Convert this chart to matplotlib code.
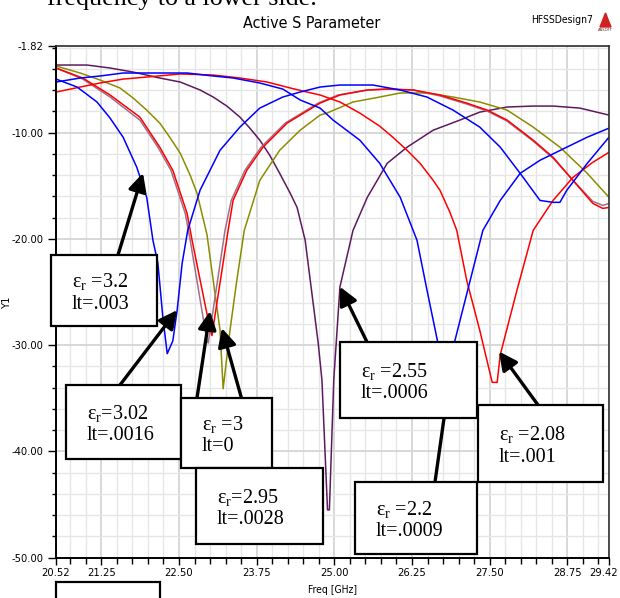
import numpy as np
import matplotlib
matplotlib.use("Agg")
import matplotlib.pyplot as plt
from matplotlib import font_manager
from matplotlib.font_manager import FontProperties
from matplotlib.patches import Rectangle, Polygon
from matplotlib.ticker import MultipleLocator
from matplotlib.transforms import ScaledTranslation

# narrow sans for the HFSS texts: condensed DejaVu if present, else Liberation Sans
narrow = 'Liberation Sans'
stretch = 'normal'
try:
    path = font_manager.findfont(FontProperties(family='DejaVu Sans', stretch='condensed'),
                                 fallback_to_default=False)
    if 'Condensed' in path:
        narrow, stretch = 'DejaVu Sans', 'condensed'
except Exception:
    pass
plt.rcParams['font.family'] = [narrow, 'DejaVu Sans']
plt.rcParams['font.stretch'] = stretch
plt.rcParams['mathtext.fontset'] = 'custom'
plt.rcParams['mathtext.rm'] = 'Liberation Serif'
plt.rcParams['mathtext.it'] = 'Liberation Serif:italic'

# ---- data (Freq in GHz, Y1 in dB) ----
f_blue_a = [20.52, 20.86, 21.18, 21.39, 21.60, 21.82, 21.98, 22.08, 22.16, 22.24, 22.31, 22.40,
            22.47, 22.55, 22.64, 22.84, 23.16, 23.48, 23.80, 24.17, 24.45, 24.77, 25.09, 25.62,
            26.06, 26.49, 26.91, 27.34, 27.67, 27.99, 28.31, 28.52, 28.63, 28.74, 29.07, 29.42]
y_blue_a = [-4.96, -5.71, -7.12, -8.63, -10.43, -13.26, -16.09, -20.13, -22.3, -27.4, -30.8, -29.6,
            -26.7, -22.3, -19.2, -15.4, -11.66, -9.48, -7.69, -6.65, -6.18, -5.71, -5.52, -5.52,
            -5.99, -6.65, -7.88, -9.48, -11.37, -13.83, -16.38, -16.56, -16.56, -15.43, -12.89, -10.43]

f_blue_b = [20.52, 20.91, 21.23, 21.60, 22.03, 22.63, 23.05, 23.37, 23.80, 24.17, 24.45, 24.77,
            24.98, 25.41, 25.73, 26.06, 26.33, 26.49, 26.67, 26.80, 26.93, 27.39, 27.67, 27.99,
            28.31, 28.74, 29.07, 29.42]
y_blue_b = [-5.24, -4.86, -4.67, -4.39, -4.39, -4.39, -4.67, -4.86, -5.33, -5.90, -6.93, -7.69,
            -8.82, -10.71, -12.89, -16.09, -20.13, -24.8, -29.9, -33.5, -29.8, -19.2, -16.38, -13.83,
            -12.6, -11.37, -10.43, -9.58]

f_red_a = [20.52, 20.91, 21.23, 21.60, 21.98, 22.52, 23.05, 23.48, 23.92, 24.29, 24.56, 24.77,
           25.09, 25.41, 25.73, 25.94, 26.17, 26.38, 26.59, 26.70, 26.86, 26.97, 27.13, 27.34,
           27.54, 27.62, 27.67, 27.94, 28.20, 28.52, 28.84, 29.16, 29.42]
y_red_a = [-6.18, -5.71, -5.33, -4.96, -4.77, -4.48, -4.58, -4.86, -5.24, -5.80, -6.18, -6.46,
           -7.12, -8.16, -9.39, -10.43, -11.66, -12.89, -14.49, -15.43, -17.5, -19.2, -23.9, -28.6,
           -33.5, -33.5, -30.9, -24.8, -19.2, -16.38, -14.21, -12.79, -11.85]

f_red_b = [20.52, 20.95, 21.39, 21.87, 22.19, 22.40, 22.63, 22.71, 23.00, 23.03, 23.05, 23.29,
           23.37, 23.59, 23.85, 24.24, 24.77, 25.09, 25.53, 25.85, 26.27, 26.70, 27.13, 27.46,
           27.78, 28.20, 28.52, 28.84, 29.16, 29.32, 29.42]
y_red_b = [-3.92, -4.86, -6.46, -8.54, -11.37, -13.55, -17.6, -20.13, -28.5, -29.1, -28.3, -19.2,
           -16.38, -13.55, -11.37, -9.1, -7.22, -6.46, -5.99, -5.9, -5.99, -6.46, -7.22, -7.88,
           -8.82, -10.71, -12.32, -14.49, -16.66, -17.13, -17.04]

f_mauve = [20.52, 20.95, 21.39, 21.87, 22.16, 22.37, 22.60, 22.68, 22.95, 22.97, 23.00, 23.24,
           23.34, 23.56, 23.82, 24.21, 24.74, 25.06, 25.53, 25.85, 26.27, 26.70, 27.13, 27.46,
           27.78, 28.20, 28.52, 28.84, 29.16, 29.32, 29.42]
y_mauve = [-3.92, -4.96, -6.65, -8.82, -11.37, -13.55, -17.6, -20.13, -29.6, -29.8, -28.6, -19.2,
           -16.38, -13.55, -11.37, -9.1, -7.22, -6.46, -5.99, -5.9, -5.99, -6.55, -7.31, -7.97,
           -8.92, -10.8, -12.41, -14.49, -16.47, -16.85, -16.66]

f_olive = [20.52, 20.91, 21.23, 21.55, 21.76, 21.98, 22.19, 22.35, 22.52, 22.68, 22.79, 22.95,
           23.05, 23.16, 23.21, 23.32, 23.43, 23.55, 23.80, 24.12, 24.45, 24.77, 24.88, 25.30,
           25.73, 26.06, 26.49, 26.91, 27.34, 27.78, 28.20, 28.63, 29.07, 29.42]
y_olive = [-3.73, -4.39, -5.05, -5.80, -6.74, -7.88, -9.10, -10.43, -11.94, -14.02, -15.71, -19.6,
           -23.9, -28.6, -34.1, -28.6, -23.9, -19.2, -14.49, -11.66, -9.77, -8.35, -8.16, -7.12,
           -6.65, -6.27, -6.27, -6.65, -7.12, -7.88, -9.48, -11.37, -13.83, -16.09]

f_purple = [20.52, 21.02, 21.39, 21.76, 22.19, 22.52, 22.84, 23.05, 23.27, 23.48, 23.64, 23.80,
            23.96, 24.12, 24.29, 24.40, 24.53, 24.74, 24.80, 24.89, 24.92, 24.99, 25.09, 25.30,
            25.53, 25.85, 26.17, 26.59, 27.02, 27.34, 27.78, 28.20, 28.52, 28.95, 29.42]
y_purple = [-3.64, -3.64, -3.92, -4.30, -4.86, -5.24, -5.99, -6.65, -7.50, -8.54, -9.58, -10.71,
            -12.13, -13.83, -15.71, -17.04, -20.13, -29.8, -33.3, -45.5, -45.5, -33.3, -24.5, -19.2,
            -16.09, -12.89, -11.37, -9.77, -8.82, -8.07, -7.59, -7.5, -7.5, -7.69, -8.35]

x_ticks = [20.52, 21.25, 22.50, 23.75, 25.00, 26.25, 27.50, 28.75, 29.42]
y_ticks = [-50.0, -40.0, -30.0, -20.0, -10.0, -1.82]
y_ticklabels = ['-50.00', '-40.00', '-30.00', '-20.00', '-10.00', '-1.82']

labels = ['ε$_\\mathrm{r}$ =3.2\nlt=.003',
          'ε$_\\mathrm{r}$=3.02\nlt=.0016',
          'ε$_\\mathrm{r}$ =3\nlt=0',
          'ε$_\\mathrm{r}$=2.95\nlt=.0028',
          'ε$_\\mathrm{r}$ =2.55\nlt=.0006',
          'ε$_\\mathrm{r}$ =2.08\nlt=.001',
          'ε$_\\mathrm{r}$ =2.2\nlt=.0009']
# arrow targets on the curves (GHz, dB)
arrow_tips = [(21.92, -13.8), (22.47, -26.7), (23.00, -26.8), (23.19, -28.4),
              (25.09, -24.5), (27.65, -30.6), (26.89, -31.7)]

# ---- layout (pixels, from top-left) ----
W, H = 620, 598
boxes = [(51, 255, 157, 326), (66, 385, 181, 459), (181, 398, 272, 468), (196, 468, 323, 544),
         (340, 342, 477, 418), (478, 405, 603, 482), (355, 482, 477, 554)]
tails = [(118, 255), (120, 385), (197, 398), (261, 468), (367, 342), (538, 405), (435, 482)]


def fp(x, y):
    return (x / W, 1 - y / H)


fig = plt.figure(figsize=(6.2, 5.98), dpi=100)
ax = fig.add_axes([56 / W, 1 - 557.7 / H, 553 / W, 512 / H])

ax.plot(f_purple, y_purple, color='#5e1a5e', lw=1.1)
ax.plot(f_olive, y_olive, color='#8c8c00', lw=1.1)
ax.plot(f_mauve, y_mauve, color='#a07088', lw=1.1)
ax.plot(f_red_b, y_red_b, color='#ff0000', lw=1.1)
ax.plot(f_red_a, y_red_a, color='#ff0000', lw=1.1)
ax.plot(f_blue_b, y_blue_b, color='#0000ff', lw=1.1)
ax.plot(f_blue_a, y_blue_a, color='#0000ff', lw=1.1)

ax.set_xlim(20.52, 29.42)
ax.set_ylim(-50, -1.82)
ax.set_xticks(x_ticks)
ax.set_xticklabels(['%.2f' % v for v in x_ticks])
ax.set_yticks(y_ticks)
ax.set_yticklabels(y_ticklabels)
ax.xaxis.set_minor_locator(MultipleLocator(0.25))
ax.yaxis.set_minor_locator(MultipleLocator(2))
ax.tick_params(axis='both', which='both', direction='out', labelsize=8, colors='black')
ax.tick_params(axis='y', which='major', length=6, width=1, pad=3)
ax.tick_params(axis='y', which='minor', length=3, width=1)
ax.tick_params(axis='x', which='major', length=5, width=1, pad=2.5)
ax.tick_params(axis='x', which='minor', length=4, width=1)
ax.grid(which='minor', color='#e6e6e6', lw=1.0)
ax.grid(which='major', color='#d2d2d2', lw=1.2)
ax.set_axisbelow(True)
for s in ['left', 'bottom']:
    ax.spines[s].set_linewidth(1.4)
for s in ['top', 'right']:
    ax.spines[s].set_linewidth(1.2)
    ax.spines[s].set_color('#303030')

# last x label sits against the right edge of the picture
last = ax.get_xticklabels()[-1]
last.set_transform(last.get_transform() + ScaledTranslation(-4 / 72, 0, fig.dpi_scale_trans))

ax.set_xlabel('Freq [GHz]', fontsize=7.5)
ax.xaxis.set_label_coords(0.5, -0.053)
ax.set_ylabel('Y1', fontsize=8)
ax.yaxis.set_label_coords(-0.08, 0.5)

fig.text(312 / W, 1 - 24 / H, 'Active S Parameter', ha='center', va='center', fontsize=11.5)
fig.text(593 / W, 1 - 20 / H, 'HFSSDesign7', ha='right', va='center', fontsize=7.5)
fig.patches.append(Polygon([fp(600, 27), fp(605.5, 13), fp(611, 27)], closed=True,
                           color='#d02020', transform=fig.transFigure))
fig.text(605.5 / W, 1 - 30 / H, 'ANSOFT', ha='center', va='center', fontsize=3, color='#602020')

# text cut at the top edge
fig.text(47 / W, 1 - 5 / H, 'frequency to a lower side.', ha='left', va='baseline',
         fontsize=18.7, family='Liberation Serif', stretch='normal')

# annotation boxes
for lab, (x0, y0, x1, y1) in zip(labels, boxes):
    fig.patches.append(Rectangle(fp(x0, y1), (x1 - x0) / W, (y1 - y0) / H, transform=fig.transFigure,
                                 facecolor='white', edgecolor='black', lw=1.6, zorder=5))
    fig.text((x0 + 21) / W, 1 - ((y0 + y1) / 2 + 2) / H, lab, ha='left', va='center',
             fontsize=14.5, family='Liberation Serif', stretch='normal', linespacing=1.15, zorder=6)

fig.patches.append(Rectangle(fp(56, 620), 104 / W, 38 / H, transform=fig.transFigure,
                             facecolor='white', edgecolor='black', lw=1.6, zorder=5))

for (tx, ty), tip in zip(tails, arrow_tips):
    ax.annotate('', xy=tip, xycoords='data', xytext=fp(tx, ty), textcoords='figure fraction',
                arrowprops=dict(arrowstyle='-|>,head_length=0.5,head_width=0.25', mutation_scale=22,
                                lw=2.4, color='black', shrinkA=0, shrinkB=0),
                annotation_clip=False, zorder=8)

fig.savefig('out.png', dpi=100)
